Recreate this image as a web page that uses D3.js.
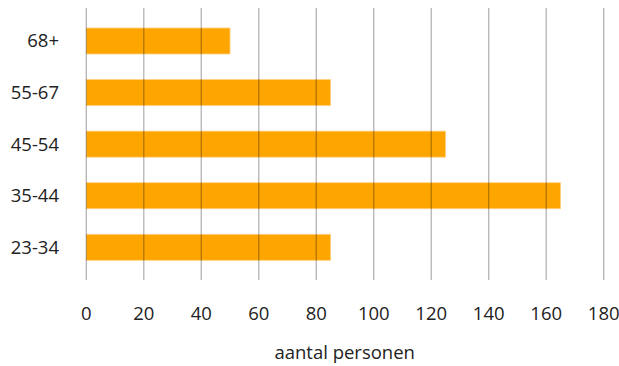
<!DOCTYPE html>
<html><head><meta charset="utf-8">
<script src="https://cdn.jsdelivr.net/npm/d3@7"></script>
<style>body{margin:0;background:#fff}svg{display:block}text{font-family:"Open Sans","Noto Sans",sans-serif;fill:#222}</style>
</head><body>
<script>
const categories = ["68+", "55-67", "45-54", "35-44", "23-34"];
const values = [50, 85, 125, 165, 85];
const xTicks = [0, 20, 40, 60, 80, 100, 120, 140, 160, 180];
const xTitle = "aantal personen";

const W = 619, H = 366;
const FS = 18.5;
const svg = d3.select("body").append("svg").attr("width", W).attr("height", H);
const x = d3.scaleLinear().domain([0, 180]).range([86.3, 603.7]);
const y = d3.scaleBand().domain(categories).range([15.2, 273.1])
  .paddingInner(0.496).paddingOuter(0.248);

svg.append("g").selectAll("rect").data(categories).join("rect")
  .attr("x", x(0)).attr("y", d => y(d))
  .attr("width", (d, i) => x(values[i]) - x(0)).attr("height", y.bandwidth())
  .attr("fill", "#FFA500").attr("stroke", "#FFD080").attr("stroke-width", 0.8);

svg.append("g").selectAll("line").data(xTicks).join("line")
  .attr("x1", d => x(d)).attr("x2", d => x(d)).attr("y1", 8).attr("y2", 280)
  .attr("stroke", "#000").attr("stroke-opacity", 0.3).attr("stroke-width", 1.3);

svg.append("g").selectAll("text").data(xTicks).join("text")
  .attr("x", d => x(d)).attr("y", 314).attr("dy", "0.35em")
  .attr("text-anchor", "middle").attr("font-size", FS).text(d => d);

svg.append("g").selectAll("text").data(categories).join("text")
  .attr("x", 59).attr("y", d => y(d) + y.bandwidth() / 2).attr("dy", "0.35em")
  .attr("text-anchor", "end").attr("font-size", FS).text(d => d);

svg.append("text").attr("x", 344.7).attr("y", 353).attr("dy", "0.35em")
  .attr("text-anchor", "middle").attr("font-size", FS).text(xTitle);
</script>
</body></html>
